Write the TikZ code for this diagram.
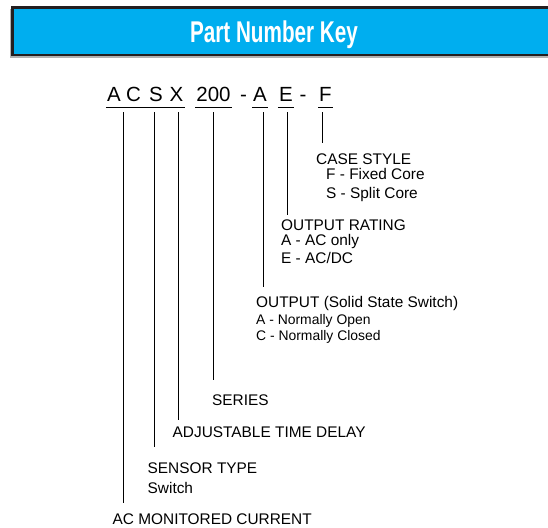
\documentclass[tikz,border=0pt]{standalone}
\usepackage{fontspec}
\setmainfont{Liberation Sans}
\newfontfamily\titlefont{Liberation Sans}[FakeStretch=0.69]
\usepackage{xcolor}
\usetikzlibrary{positioning}
\definecolor{keyblue}{RGB}{0,174,239}
\definecolor{keyframe}{RGB}{35,31,32}

\begin{document}
\begin{tikzpicture}[
    x=1pt, y=-1pt,
    code/.style={font=\fontsize{20.5}{24}\selectfont, inner xsep=1pt, inner ysep=6pt, anchor=base},
    lbl/.style={font=\fontsize{15.4}{18}\selectfont, inner sep=0pt, anchor=base west, text height=10.6pt},
    sublbl/.style={lbl, font=\fontsize{13.9}{16}\selectfont},
    tick/.style={line width=1pt},
    uline/.style={line width=1.2pt},
]
\useasboundingbox (0,0) rectangle (548,527);

\fill[gray!60] (10,9) rectangle (552,57.5);
\draw[keyframe, fill=keyblue, line width=2.5pt] (12.5,7.5) rectangle (554,55);
\node[font=\titlefont\bfseries\fontsize{30}{34}\selectfont, text=white, anchor=base] (title) at (274,42.7) {Part Number Key};

\node[code] (cA) at (114,101) {A};
\node[code] (cC) at (133.5,101) {C};
\node[code] (cS) at (156,101) {S};
\node[code] (cX) at (176.5,101) {X};
\node[code] (c200) at (213.5,101) {200};
\node[code] (d1) at (243.5,101) {-};
\node[code] (cOut) at (260,101) {A};
\node[code] (cRate) at (286,101) {E};
\node[code] (d2) at (303,101) {-};
\node[code] (cCase) at (325.5,101) {F};

\draw[uline] (cA.south west) -- (cX.south east);
\draw[uline] (c200.south west) -- (c200.south east);
\draw[uline] (cOut.south west) -- (cOut.south east);
\draw[uline] (cRate.south west) -- (cRate.south east);
\draw[uline] (cCase.south west) -- (cCase.south east);

\node[lbl] (caseH) at (316,164) {CASE STYLE};
\node[lbl] (caseF) at (326,179.3) {F - Fixed Core};
\node[lbl] (caseS) at (326,198.5) {S - Split Core};
\node[lbl] (rateH) at (281,230) {OUTPUT RATING};
\node[lbl] (rateA) at (281,245) {A - AC only};
\node[lbl] (rateE) at (281,263.3) {E - AC/DC};
\node[lbl] (outH) at (256,307.3) {OUTPUT (Solid State Switch)};
\node[sublbl] (outA) at (256,324) {A - Normally Open};
\node[sublbl] (outC) at (256,340.7) {C - Normally Closed};
\node[lbl] (seriesH) at (212,405) {SERIES};
\node[lbl] (delayH) at (172.5,437) {ADJUSTABLE TIME DELAY};
\node[lbl] (sensorH) at (147.5,473) {SENSOR TYPE};
\node[lbl] (sensorSw) at (147.5,493.3) {Switch};
\node[lbl] (acH) at (112.5,524.8) {AC MONITORED CURRENT};

\foreach \t/\x in {tAC/123, tSensor/154, tDelay/178, tSeries/213, tOut/263, tRate/287, tCase/322}
    \coordinate (\t) at (\x,112);

\foreach \t/\l/\s in {tAC/acH/11.2, tSensor/sensorH/15.4, tDelay/delayH/6.4, tSeries/seriesH/14.4,
                      tOut/outH/9.7, tRate/rateH/4.4, tCase/caseH/10.4}
    \draw[tick, shorten >=\s pt] (\t) -- (\t |- \l.north);
\end{tikzpicture}
\end{document}
